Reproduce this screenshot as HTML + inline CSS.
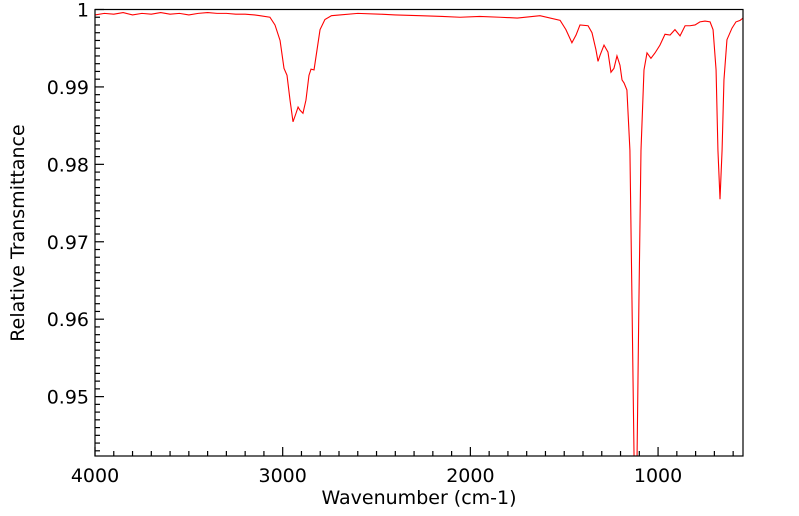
<!DOCTYPE html>
<html><head><meta charset="utf-8">
<style>
html,body{margin:0;padding:0;background:#fff;}
svg{display:block;font-family:"DejaVu Sans","Liberation Sans",sans-serif;}
</style></head>
<body>
<svg id="chart" width="799" height="516" viewBox="0 0 799 516" xmlns="http://www.w3.org/2000/svg">
<g id="axes"></g>
<path id="series" fill="none" stroke="#ff0000" stroke-width="1.1"/>
<rect x="95" y="9.5" width="648" height="446.5" fill="none" stroke="#000" stroke-width="1.2"/>
<text x="419" y="504" font-size="19" text-anchor="middle">Wavenumber (cm-1)</text>
<text transform="translate(24,233) rotate(-90)" font-size="19" text-anchor="middle">Relative Transmittance</text>
</svg>
<script>
const wavenumbers = [4000,3950,3900,3850,3800,3750,3700,3650,3600,3550,3500,3450,3400,3350,3300,3250,3200,3150,3121,3068,3041,3014,2993,2977,2961,2945,2929,2918,2908,2892,2876,2860,2849,2833,2817,2801,2775,2740,2695,2600,2482,2400,2268,2150,2055,1950,1842,1750,1629,1522,1491,1459,1437,1416,1373,1352,1331,1320,1309,1288,1267,1251,1235,1219,1203,1192,1181,1166,1150,1139,1128,1120,1112,1102,1091,1075,1059,1038,1016,990,963,936,910,883,856,830,803,777,750,723,707,691,681,670,659,649,633,606,585,563,547];
const transmittance = [0.9993,0.9995,0.9994,0.9996,0.9993,0.9995,0.9994,0.9996,0.9994,0.9995,0.9993,0.9995,0.9996,0.9995,0.9995,0.9994,0.9994,0.9993,0.9992,0.9990,0.9980,0.9960,0.9924,0.9915,0.9883,0.9855,0.9866,0.9874,0.9870,0.9866,0.9883,0.9915,0.9923,0.9922,0.9948,0.9974,0.9987,0.9992,0.9993,0.9995,0.9994,0.9993,0.9992,0.9991,0.9990,0.9991,0.9990,0.9989,0.9992,0.9986,0.9974,0.9957,0.9967,0.9980,0.9979,0.9970,0.9948,0.9933,0.9941,0.9954,0.9945,0.9919,0.9924,0.9940,0.9928,0.9909,0.9905,0.9896,0.9818,0.9624,0.9422,0.9350,0.9422,0.9624,0.9818,0.9922,0.9944,0.9937,0.9944,0.9954,0.9968,0.9967,0.9974,0.9966,0.9979,0.9979,0.9980,0.9984,0.9985,0.9984,0.9974,0.9922,0.9818,0.9755,0.9818,0.9909,0.9961,0.9976,0.9984,0.9986,0.9989];
const xTicks = [4000,3000,2000,1000];
const yTicks = [1,0.99,0.98,0.97,0.96,0.95];
const yTickLabels = ["1","0.99","0.98","0.97","0.96","0.95"];

const X0=95, X1=743, Y0=9.5, Y1=456;
const WMAX=4000, WMIN=547.5, VMAX=1, VMIN=0.94233;
function sx(w){return X0+(WMAX-w)/(WMAX-WMIN)*(X1-X0);}
function sy(v){return Y0+(VMAX-v)/(VMAX-VMIN)*(Y1-Y0);}
const NS="http://www.w3.org/2000/svg";
const axes=document.getElementById('axes');
function line(x1,y1,x2,y2,name){
  const l=document.createElementNS(NS,'line');
  l.setAttribute('x1',x1);l.setAttribute('y1',y1);l.setAttribute('x2',x2);l.setAttribute('y2',y2);
  l.setAttribute('stroke','#000');l.setAttribute('stroke-width','1.2');
  
  
  axes.appendChild(l);
}
function text(x,y,s,anchor,name){
  const t=document.createElementNS(NS,'text');
  t.setAttribute('x',x);t.setAttribute('y',y);t.setAttribute('font-size','19');t.setAttribute('text-anchor',anchor);
  t.textContent=s;
  
  
  axes.appendChild(t);
}
for(let w=4000; w>=WMIN; w-=100){
  const x=sx(w), major=(w%1000===0);
  line(x,Y1,x,Y1-(major?9:5), major?'x-major-tick':'x-minor-tick');
}
xTicks.forEach(w=>text(sx(w),Y1+26,String(w),'middle','x-tick-label'));
for(let i=0;;i++){
  const v=1-i*0.001; if(v<VMIN) break;
  const major=(i%10===0);
  const y=sy(v);
  line(X0,y,X0+(major?9:5),y, major?'y-major-tick':'y-minor-tick');
}
yTicks.forEach((v,i)=>text(89,sy(v)+7,yTickLabels[i],'end','y-tick-label'));
let d='';
wavenumbers.forEach((w,i)=>{d+=(i?'L':'M')+sx(w).toFixed(2)+','+sy(transmittance[i]).toFixed(2);});
document.getElementById('series').setAttribute('d',d);
const cp=document.createElementNS(NS,'clipPath');cp.setAttribute('id','clip');
const cr=document.createElementNS(NS,'rect');cr.setAttribute('x',X0);cr.setAttribute('y',Y0);cr.setAttribute('width',X1-X0);cr.setAttribute('height',Y1-Y0);
cp.appendChild(cr);document.getElementById('chart').appendChild(cp);
document.getElementById('series').setAttribute('clip-path','url(#clip)');
</script>
</body></html>
